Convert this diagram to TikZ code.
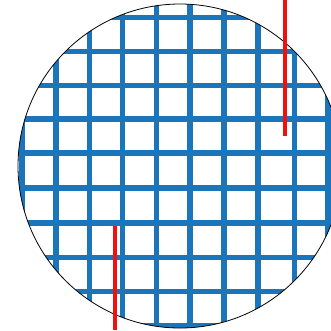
\documentclass[tikz,border=0pt]{standalone}
\usepackage{xcolor}
\usepackage{tikz}
\definecolor{meshblue}{HTML}{1A75BB}
\definecolor{wirered}{HTML}{F01010}
\tikzset{
    meshline/.style={draw=meshblue, line width=5.5pt},
    rim/.style={draw=black, line width=0.8pt},
    probe/.style={draw=wirered, line width=4pt},
}

\begin{document}
\begin{tikzpicture}[x=1pt, y=-1pt]
        \useasboundingbox (0,0) rectangle (331,330);
        \coordinate (centre) at (180,166);
        % mesh inside the disc
        \begin{scope}
            \clip (centre) circle (162);
            \foreach \gx in {22,56,89.5,122.5,156.5,190,224,258,294.5,328}
                \draw[meshline] (\gx,0) -- (\gx,330);
            \foreach \gy in {17.5,51.5,85.5,119,153,188,223,257.5,291.5,326}
                \draw[meshline] (0,\gy) -- (331,\gy);
        \end{scope}
        \draw[rim] (centre) circle (162);
        % the two leads
        \coordinate (leadAtop) at (284.5,0);
        \coordinate (leadAend) at (284.5,135.5);
        \coordinate (leadBtop) at (115,226);
        \coordinate (leadBend) at (115,330);
        \draw[probe] (leadAtop) -- (leadAend);
        \draw[probe] (leadBtop) -- (leadBend);
    \end{tikzpicture}
\end{document}
